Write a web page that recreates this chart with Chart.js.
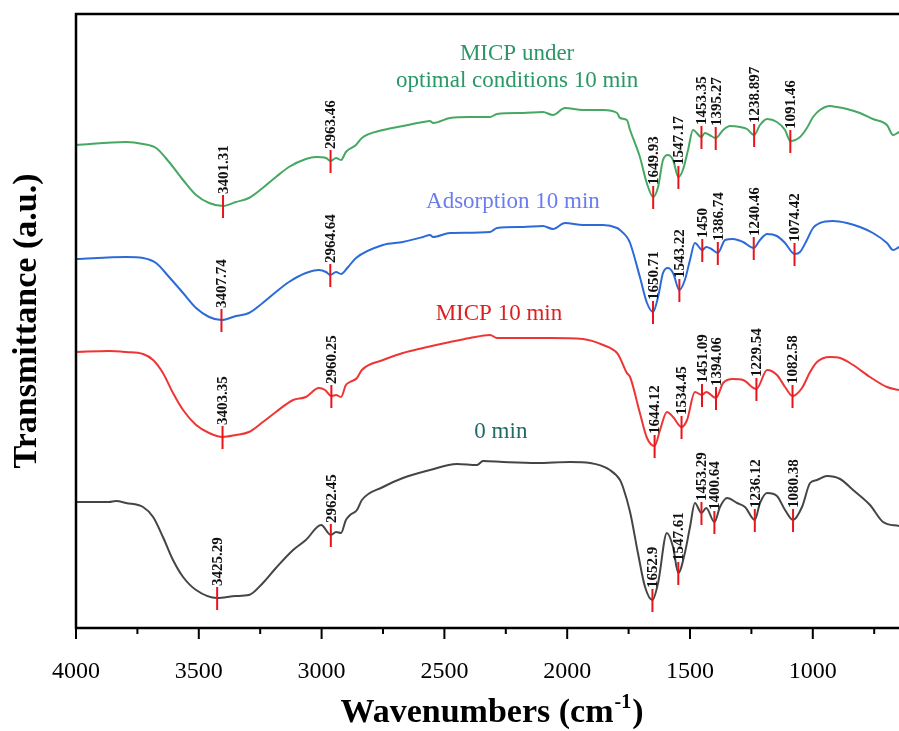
<!DOCTYPE html>
<html><head><meta charset="utf-8">
<script src="https://cdn.jsdelivr.net/npm/chart.js@4.4.0/dist/chart.umd.min.js"></script>
<style>html,body{margin:0;padding:0;background:#fff;}</style>
</head><body>
<canvas id="c" width="899" height="731"></canvas>
<script>
// ---------- DATA ----------
const xTickValues = [4000, 3500, 3000, 2500, 2000, 1500, 1000];
const xMinorTicks = [3750, 3250, 2750, 2250, 1750, 1250, 750];

// MICP under optimal conditions 10 min (green)
const optWn = [4000,3796,3727,3674,3621,3564,3511,3458,3401.31,3349,3296,3240,3186,3133,3064,3023,2982,2963.46,2941,2921,2901,2860,2836,2750,2669,2587,2559,2546,2477,2396,2314,2286,2180,2099,2058,2009,1936,1854,1797,1785,1757,1744,1704,1676,1649.93,1630,1610,1590,1569,1547.17,1529,1508,1488,1453.35,1440,1421,1395.27,1365,1337,1296,1268,1238.897,1215,1186,1146,1113,1091.46,1052,1024,999,971,930,902,861,808,755,698,673,649];
const optT  = [483,486,484,480,466,448,433,425,422,426,430,440,451,461,469,471,470,467,470,468,476,483,490,498,502,506,507,505,510,511,511,514,515,516,513,520,518,518,515,510,508,498,471,445,431,441,468,473,468,451,458,478,498,491,495,493,490,498,502,501,499,493,503,509,506,498,487,491,500,511,518,522,521,519,515,509,503,493,496];
const optPeaks = ["3401.31","2963.46","1649.93","1547.17","1453.35","1395.27","1238.897","1091.46"];

// Adsorption 10 min (blue)
const adsWn = [4000,3796,3727,3674,3621,3564,3511,3458,3407.74,3349,3296,3240,3186,3133,3064,3011,2982,2964.64,2941,2921,2892,2860,2750,2669,2587,2559,2546,2477,2314,2286,2180,2099,2058,2009,1936,1854,1797,1785,1757,1744,1704,1675,1650.71,1630,1610,1590,1569,1543.22,1521,1500,1480,1450,1434,1413,1386.74,1357,1325,1284,1240.46,1215,1186,1146,1113,1074.42,1052,1024,999,971,918,861,808,755,698,673,649];
const adsT  = [369,371,370,365,351,335,320,311,308,312,315,325,336,346,355,358,356,353,356,354,361,370,383,386,391,393,391,395,396,400,401,402,399,405,403,403,400,398,391,385,351,325,316,331,355,360,355,338,348,368,385,378,381,379,375,388,389,386,380,388,394,392,385,374,376,388,400,405,407,405,401,395,385,378,381];
const adsPeaks = ["3407.74","2964.64","1650.71","1543.22","1450","1386.74","1240.46","1074.42"];

// MICP 10 min (red)
const micpWn = [4000,3866,3796,3727,3686,3646,3605,3564,3511,3458,3403.35,3349,3296,3239,3186,3116,3064,3011,2986,2960.25,2941,2921,2901,2884,2856,2836,2750,2669,2587,2477,2396,2314,2286,2180,2070,1936,1854,1797,1785,1757,1744,1704,1675,1644.12,1622,1594,1569,1534.45,1512,1480,1451.09,1434,1394.06,1365,1325,1284,1229.54,1186,1146,1113,1082.58,1044,1011,983,930,889,836,767,698,649];
const micpT  = [276,277,276,274,268,255,235,218,203,195,191,193,196,206,216,228,231,240,238,232,233,231,243,246,250,258,268,275,280,286,290,293,290,290,290,289,283,275,270,255,251,215,190,182,198,216,211,201,208,236,233,236,230,245,249,248,239,258,253,241,232,240,256,266,271,270,263,251,241,238];
const micpPeaks = ["3403.35","2960.25","1644.12","1534.45","1451.09","1394.06","1229.54","1082.58"];

// 0 min (dark grey)
const zeroWn = [4000,3866,3837,3796,3727,3686,3646,3605,3564,3511,3425.29,3349,3296,3239,3186,3116,3064,3002,2962.45,2941,2921,2901,2884,2856,2836,2750,2669,2559,2449,2367,2343,2261,2123,1989,1907,1826,1785,1773,1744,1712,1683,1652.9,1630,1594,1569,1547.61,1521,1500,1480,1453.29,1434,1400.64,1378,1349,1308,1276,1236.12,1215,1186,1146,1113,1080.38,1044,1011,983,942,889,836,767,714,649];
const zeroT  = [126,126,127,125,121,111,91,68,51,38,30,32,33,45,60,78,88,103,93,96,95,108,113,118,128,141,150,158,164,163,167,166,165,166,165,158,148,141,116,75,41,28,45,95,81,55,75,101,125,115,120,106,121,130,125,121,108,125,135,132,118,108,121,145,148,152,149,138,123,106,102];
const zeroPeaks = ["3425.29","2962.45","1652.9","1547.61","1453.29","1400.64","1236.12","1080.38"];

// ---------- CHART ----------
const SERIF = '"Liberation Serif","Times New Roman",serif';
function pts(wn, t){ return wn.map((x,i)=>({x:x, y:t[i]})); }
function interp(wn, t, x){
  for (let i=0;i<wn.length-1;i++){
    const a=wn[i], b=wn[i+1];
    if ((x<=a && x>=b) || (x>=a && x<=b)){
      if (a===b) return t[i];
      return t[i] + (t[i+1]-t[i])*(x-a)/(b-a);
    }
  }
  return t[t.length-1];
}

const series = [
  {wn: optWn,  t: optT,  peaks: optPeaks,  color:'#46a862'},
  {wn: adsWn,  t: adsT,  peaks: adsPeaks,  color:'#2c6ad8'},
  {wn: micpWn, t: micpT, peaks: micpPeaks, color:'#ee3535'},
  {wn: zeroWn, t: zeroT, peaks: zeroPeaks, color:'#454545'}
];

const deco = {
  id:'deco',
  afterDatasetsDraw(chart){
    const ctx = chart.ctx, xs = chart.scales.x, ys = chart.scales.y, ca = chart.chartArea;
    ctx.save();
    // frame
    ctx.strokeStyle = '#000'; ctx.lineWidth = 2.5; ctx.lineCap = 'butt';
    ctx.beginPath();
    ctx.moveTo(ca.left, ca.bottom); ctx.lineTo(ca.left, ca.top); ctx.lineTo(ca.right, ca.top);
    ctx.moveTo(ca.left-1.2, ca.bottom); ctx.lineTo(ca.right, ca.bottom);
    ctx.stroke();
    // ticks
    ctx.lineWidth = 2;
    ctx.beginPath();
    xTickValues.forEach(v=>{ const p = xs.getPixelForValue(v); ctx.moveTo(p, ca.bottom); ctx.lineTo(p, ca.bottom+11); });
    xMinorTicks.forEach(v=>{ const p = xs.getPixelForValue(v); ctx.moveTo(p, ca.bottom); ctx.lineTo(p, ca.bottom+6); });
    ctx.stroke();
    // peak markers & labels
    series.forEach(s=>{
      s.peaks.forEach(lbl=>{
        const w = parseFloat(lbl);
        const v = interp(s.wn, s.t, w);
        const px = xs.getPixelForValue(w), py = ys.getPixelForValue(v);
        ctx.strokeStyle = '#e8141c'; ctx.lineWidth = 2;
        ctx.beginPath(); ctx.moveTo(px, py-11); ctx.lineTo(px, py+12); ctx.stroke();
        ctx.save();
        ctx.translate(px+1, py-12);
        ctx.rotate(-Math.PI/2);
        ctx.fillStyle = '#111';
        ctx.font = 'bold 15px ' + SERIF;
        ctx.textAlign = 'left'; ctx.textBaseline = 'middle';
        ctx.fillText(lbl, 0, 0);
        ctx.restore();
      });
    });
    // series names
    ctx.textAlign = 'center'; ctx.textBaseline = 'alphabetic';
    ctx.font = '23px ' + SERIF;
    ctx.fillStyle = '#2a9866';
    ctx.fillText('MICP under', xs.getPixelForValue(2204), ys.getPixelForValue(568));
    ctx.fillText('optimal conditions 10 min', xs.getPixelForValue(2204), ys.getPixelForValue(541));
    ctx.fillStyle = '#6b7cf0';
    ctx.fillText('Adsorption 10 min', xs.getPixelForValue(2221), ys.getPixelForValue(420));
    ctx.fillStyle = '#dd1f1f';
    ctx.fillText('MICP 10 min', xs.getPixelForValue(2278), ys.getPixelForValue(308));
    ctx.fillStyle = '#1e6a64';
    ctx.fillText('0 min', xs.getPixelForValue(2270), ys.getPixelForValue(190));
    // axis titles
    ctx.fillStyle = '#000';
    ctx.font = 'bold 34px ' + SERIF;
    ctx.save();
    ctx.translate(36, (ca.top+ca.bottom)/2);
    ctx.rotate(-Math.PI/2);
    ctx.textAlign = 'center'; ctx.textBaseline = 'alphabetic';
    ctx.fillText('Transmittance (a.u.)', 0, 0);
    ctx.restore();
    const t1 = 'Wavenumbers (cm', t2 = '-1', t3 = ')';
    ctx.font = 'bold 34px ' + SERIF; const w1 = ctx.measureText(t1).width, w3 = ctx.measureText(t3).width;
    ctx.font = 'bold 20px ' + SERIF; const w2 = ctx.measureText(t2).width;
    let x0 = 491 - (w1+w2+w3)/2, yb = 722;
    ctx.textAlign = 'left';
    ctx.font = 'bold 34px ' + SERIF; ctx.fillText(t1, x0, yb);
    ctx.font = 'bold 20px ' + SERIF; ctx.fillText(t2, x0+w1+1, yb-14);
    ctx.font = 'bold 34px ' + SERIF; ctx.fillText(t3, x0+w1+w2+2, yb);
    ctx.restore();
  }
};

new Chart(document.getElementById('c'), {
  type:'line',
  data:{
    datasets: series.map(s=>({
      data: pts(s.wn, s.t),
      borderColor: s.color, borderWidth: 2, pointRadius: 0,
      cubicInterpolationMode: 'monotone', fill:false
    }))
  },
  options:{
    responsive:false, animation:false, devicePixelRatio:1,
    layout:{ padding:{left:76, top:14, right:0, bottom:0}, autoPadding:false },
    plugins:{ legend:{display:false}, tooltip:{enabled:false} },
    scales:{
      x:{ type:'linear', reverse:true, min:649, max:4000,
          grid:{display:false}, border:{display:false},
          ticks:{ font:{family:SERIF, size:24}, color:'#000', padding:21, maxRotation:0, autoSkip:false,
                  callback: v => String(v) },
          afterBuildTicks: s => { s.ticks = xTickValues.map(v=>({value:v})); },
          afterFit: s => { s.height = 103; } },
      y:{ type:'linear', display:false, min:0, max:614 }
    }
  },
  plugins:[deco]
});
</script>
</body></html>
